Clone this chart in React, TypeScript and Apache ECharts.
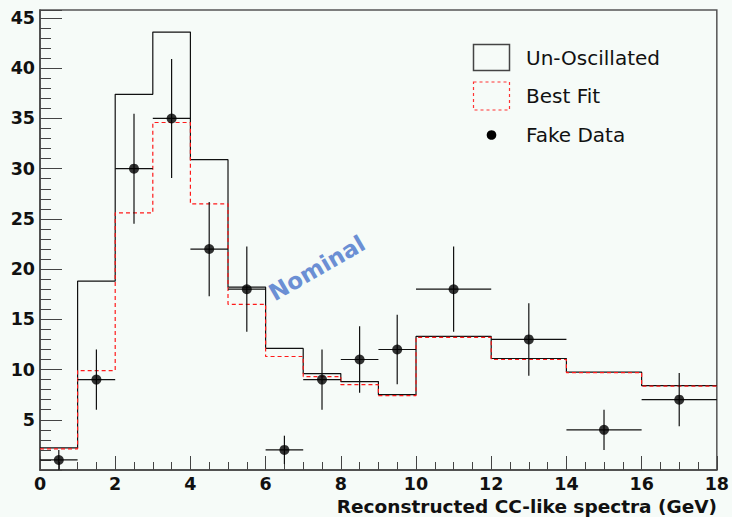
import React, { useEffect, useRef } from "react";
import * as echarts from "echarts";

// Bin edges (GeV) shared by both histograms
const binEdges = [0, 1, 2, 3, 4, 5, 6, 7, 8, 9, 10, 12, 14, 16, 18];
// Un-oscillated prediction per bin
const unOscillated = [2.2, 18.8, 37.4, 43.6, 30.9, 18.2, 12.1, 9.6, 8.8, 7.5, 13.3, 11.1, 9.75, 8.4];
// Best-fit prediction per bin
const bestFit = [2.1, 9.9, 25.6, 34.6, 26.5, 16.5, 11.3, 9.3, 8.5, 7.4, 13.2, 11.0, 9.7, 8.35];
// Fake data counts per bin
const fakeData = [1, 9, 30, 35, 22, 18, 2, 9, 11, 12, 18, 13, 4, 7];

const xTickLabels = ["0", "2", "4", "6", "8", "10", "12", "14", "16", "18"];
const yTickLabels = ["5", "10", "15", "20", "25", "30", "35", "40", "45"];

const BG = "#f6fbf8";
const AXIS = "#444";
const FONT = "DejaVu Sans";

// Step outline of a histogram: horizontal segment per bin joined by verticals
function stepPoints(values: number[]): number[][] {
  const pts: number[][] = [];
  values.forEach((v, i) => {
    pts.push([binEdges[i], v]);
    pts.push([binEdges[i + 1], v]);
  });
  return pts;
}

export default function App() {
  const ref = useRef<HTMLDivElement>(null);

  useEffect(() => {
    document.body.style.margin = "0";
    document.body.style.background = BG;
    if (!ref.current) return;
    const chart = echarts.init(ref.current, null, { renderer: "svg" });

    // [center, count, halfWidth, error]
    const points = fakeData.map((n, i) => {
      const lo = binEdges[i];
      const hi = binEdges[i + 1];
      return [(lo + hi) / 2, n, (hi - lo) / 2, Math.sqrt(n)];
    });

    const tickFont = {
      fontFamily: FONT,
      fontWeight: "bold" as const,
      fontSize: 17.5,
      color: "#111",
    };

    chart.setOption({
      animation: false,
      backgroundColor: BG,
      grid: {
        left: 40,
        top: 10,
        right: 12,
        bottom: 47,
        show: true,
        backgroundColor: BG,
        borderColor: "#555",
        borderWidth: 1.5,
      },
      xAxis: {
        type: "value",
        min: 0,
        max: 18,
        interval: 2,
        axisLine: { show: true, onZero: false, lineStyle: { color: AXIS, width: 1.5 } },
        axisTick: { show: true, inside: true, length: 14, lineStyle: { color: AXIS } },
        minorTick: { show: true, splitNumber: 4, length: 8, lineStyle: { color: AXIS } },
        splitLine: { show: false },
        minorSplitLine: { show: false },
        axisLabel: {
          ...tickFont,
          margin: 5,
          showMinLabel: true,
          showMaxLabel: true,
          formatter: (v: number) => {
            const s = String(v);
            return xTickLabels.includes(s) ? s : "";
          },
        },
      },
      yAxis: {
        type: "value",
        min: 0,
        max: 45.8,
        interval: 5,
        axisLine: { show: true, onZero: false, lineStyle: { color: AXIS, width: 1.5 } },
        axisTick: { show: true, inside: true, length: 22, lineStyle: { color: AXIS } },
        minorTick: { show: true, splitNumber: 5, length: 11, lineStyle: { color: AXIS } },
        splitLine: { show: false },
        minorSplitLine: { show: false },
        axisLabel: {
          ...tickFont,
          margin: 5,
          showMaxLabel: false,
          formatter: (v: number) => {
            const s = String(v);
            return yTickLabels.includes(s) ? s : "";
          },
        },
      },
      series: [
        {
          name: "Un-Oscillated",
          type: "line",
          data: stepPoints(unOscillated),
          showSymbol: false,
          symbol: "none",
          lineStyle: { color: "#111", width: 1.2 },
          z: 2,
        },
        {
          name: "Best Fit",
          type: "line",
          data: stepPoints(bestFit),
          showSymbol: false,
          symbol: "none",
          lineStyle: { color: "#ff1a1a", width: 1.2, type: [4, 3] },
          z: 3,
        },
        {
          name: "Fake Data errors",
          type: "custom",
          data: points,
          z: 4,
          renderItem: (params: any, api: any) => {
            const x = api.value(0);
            const y = api.value(1);
            const hw = api.value(2);
            const e = api.value(3);
            const l = api.coord([x - hw, y]);
            const r = api.coord([x + hw, y]);
            const t = api.coord([x, y + e]);
            const b = api.coord([x, Math.max(0, y - e)]);
            const style = { stroke: "#111", lineWidth: 1.2 };
            return {
              type: "group",
              children: [
                { type: "line", shape: { x1: l[0], y1: l[1], x2: r[0], y2: r[1] }, style },
                { type: "line", shape: { x1: t[0], y1: t[1], x2: b[0], y2: b[1] }, style },
              ],
            };
          },
        },
        {
          name: "Fake Data",
          type: "scatter",
          data: points.map((p) => [p[0], p[1]]),
          symbol: "circle",
          symbolSize: 10,
          itemStyle: { color: "#000" },
          z: 5,
        },
      ],
      graphic: [
        // legend
        {
          type: "rect",
          shape: { x: 473.5, y: 44.5, width: 36, height: 26 },
          style: { fill: "none", stroke: "#444", lineWidth: 1.5 },
        },
        {
          type: "text",
          x: 526,
          y: 58,
          style: { text: "Un-Oscillated", font: `20px "${FONT}"`, fill: "#111", verticalAlign: "middle" },
        },
        {
          type: "rect",
          shape: { x: 473.5, y: 82, width: 36, height: 28 },
          style: { fill: "none", stroke: "#ff3333", lineWidth: 1.2, lineDash: [3, 3] },
        },
        {
          type: "text",
          x: 526,
          y: 96,
          style: { text: "Best Fit", font: `20px "${FONT}"`, fill: "#111", verticalAlign: "middle" },
        },
        {
          type: "circle",
          shape: { cx: 491.5, cy: 135, r: 4.8 },
          style: { fill: "#000" },
        },
        {
          type: "text",
          x: 526,
          y: 135,
          style: { text: "Fake Data", font: `20px "${FONT}"`, fill: "#111", verticalAlign: "middle" },
        },
        // annotation
        {
          type: "text",
          x: 317,
          y: 268,
          rotation: Math.PI / 6,
          style: {
            text: "Nominal",
            font: `bold 23px "${FONT}"`,
            fill: "#6b8fd4",
            align: "center",
            verticalAlign: "middle",
          },
        },
        // x axis title
        {
          type: "text",
          x: 717,
          y: 506,
          style: {
            text: "Reconstructed CC-like spectra (GeV)",
            font: `bold 18.5px "${FONT}"`,
            fill: "#111",
            align: "right",
            verticalAlign: "middle",
          },
        },
      ],
    });

    return () => chart.dispose();
  }, []);

  return <div ref={ref} style={{ width: 732, height: 517, background: BG }} />;
}
